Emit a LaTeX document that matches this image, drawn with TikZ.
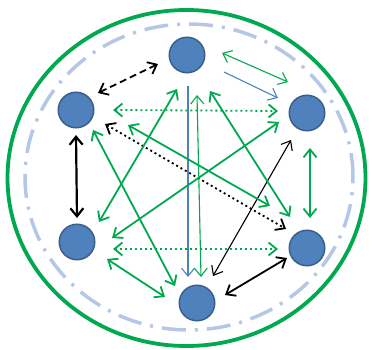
\documentclass[tikz,border=0pt]{standalone}
\usetikzlibrary{arrows.meta}
\definecolor{nodeblue}{HTML}{4F81BD}
\definecolor{nodeedge}{HTML}{3A5F8C}
\definecolor{linkgreen}{HTML}{00A850}
\definecolor{ringblue}{HTML}{B4C7E7}

\begin{document}
\begin{tikzpicture}[
    x = 1pt, y = -1pt,
    station/.style = {circle, draw=nodeedge, fill=nodeblue, line width=1.5pt, minimum size=35.5pt, inner sep=0pt},
    link/.style = {<->, >={Straight Barb[length=8pt, width=13pt]}, line width=1.8pt},
    thinlink/.style = {link, line width=1.1pt},
    dots/.style = {dash pattern=on 2pt off 3pt},
    oneway/.style = {thinlink, -{Straight Barb[length=8pt, width=13pt]}}
]
\useasboundingbox (0,0) rectangle (372,350);

% Define rings
\draw[linkgreen, line width=3.8pt] (186.5,178) ellipse [x radius=179pt, y radius=168pt];
\draw[ringblue, line width=3.5pt, dash pattern=on 24pt off 9pt on 3pt off 9pt] (189,177) ellipse [x radius=164pt, y radius=153pt];

% Define nodes
\node[station] (top) at (187,55) {};
\node[station] (upleft) at (76,110) {};
\node[station] (upright) at (307,113) {};
\node[station] (lowleft) at (77,242) {};
\node[station] (lowright) at (307,248) {};
\node[station] (bottom) at (197,303) {};

% Draw arrows
\draw[link, black, dash pattern=on 7pt off 4pt] ([shift={(22,-17)}]upleft.center) -- ([shift={(-29,9)}]top.center);
\draw[link, black, line width=2.2pt] ([shift={(0,25)}]upleft.center) -- ([shift={(0,-24)}]lowleft.center);
\draw[link, linkgreen, dots] ([shift={(37,0)}]upleft.center) -- ([shift={(-29,-2)}]upright.center);
\draw[link, linkgreen, dots] ([shift={(36,7)}]lowleft.center) -- ([shift={(-29,1)}]lowright.center);
\draw[link, black, dots] ([shift={(29,14)}]upleft.center) -- ([shift={(-21,-19)}]lowright.center);
\draw[link, linkgreen] ([shift={(3,35)}]upright.center) -- ([shift={(3,-30)}]lowright.center);
\draw[link, black] ([shift={(28,-8)}]bottom.center) -- ([shift={(-20,10)}]lowright.center);
\draw[thinlink, black] ([shift={(16,-27)}]bottom.center) -- ([shift={(-16,27)}]upright.center);
\draw[oneway, nodeblue] ([shift={(1,31)}]top.center) -- ([shift={(-9,-26)}]bottom.center);
\draw[thinlink, linkgreen] ([shift={(10,40)}]top.center) -- ([shift={(4,-26)}]bottom.center);
\draw[thinlink, linkgreen] ([shift={(35,-2)}]top.center) -- ([shift={(-19,-31)}]upright.center);
\draw[oneway, nodeblue] ([shift={(37,17)}]top.center) -- ([shift={(-29,-15)}]upright.center);
\draw[link, linkgreen] ([shift={(-10,34)}]top.center) -- ([shift={(22,-20)}]lowleft.center);
\draw[link, linkgreen] ([shift={(23,36)}]top.center) -- ([shift={(-17,-31)}]lowright.center);
\draw[link, linkgreen] ([shift={(-28,9)}]upright.center) -- ([shift={(35,-4)}]lowleft.center);
\draw[link, linkgreen] ([shift={(17,20)}]upleft.center) -- ([shift={(-22,-17)}]bottom.center);
\draw[link, linkgreen] ([shift={(52,15)}]upleft.center) -- ([shift={(-37,-42)}]lowright.center);
\draw[link, linkgreen] ([shift={(30,17)}]lowleft.center) -- ([shift={(-32,-6)}]bottom.center);

\end{tikzpicture}
\end{document}
